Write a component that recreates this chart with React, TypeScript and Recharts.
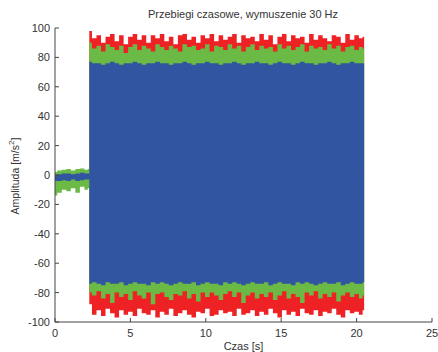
import { ComposedChart, Area, XAxis, YAxis, Label } from 'recharts';

// time stamps [s]: quiet start, then the 30 Hz excitation block
const czas = [
    0, 0.3, 0.6, 0.9, 1.2, 1.5, 1.8, 2.1, 2.25,
    2.3, 2.6, 2.9, 3.2, 3.5, 3.8, 4.1, 4.4, 4.7, 5.0,
    5.3, 5.6, 5.9, 6.2, 6.5, 6.8, 7.1, 7.4, 7.7, 8.0,
    8.3, 8.6, 8.9, 9.2, 9.5, 9.8, 10.1, 10.4, 10.7, 11.0,
    11.3, 11.6, 11.9, 12.2, 12.5, 12.8, 13.1, 13.4, 13.7, 14.0,
    14.3, 14.6, 14.9, 15.2, 15.5, 15.8, 16.1, 16.4, 16.7, 17.0,
    17.3, 17.6, 17.9, 18.2, 18.5, 18.8, 19.1, 19.4, 19.7, 20.0,
    20.3, 20.5,
];

// envelopes (min / max) of each signal
const redHigh = [
    1, 2, 1.5, 1, 2, 1.5, 2, 1.5, 2,
    98, 93, 95, 90, 94, 96, 91, 95, 89, 94,
    96, 92, 95, 90, 95, 93, 96, 91, 94, 89,
    95, 96, 92, 94, 90, 95, 93, 96, 91, 95,
    92, 94, 96, 90, 95, 93, 94, 91, 96, 92,
    95, 89, 94, 96, 91, 95, 93, 94, 90, 96,
    92, 95, 93, 91, 95, 94, 90, 96, 92, 95,
    93, 94,
];
const redLow = [
    -3, -3, -2, -3, -2, -3, -2, -3, -2,
    -88, -95, -92, -96, -91, -94, -97, -92, -95, -93,
    -96, -91, -94, -95, -92, -97, -93, -95, -91, -96,
    -94, -92, -95, -97, -93, -94, -91, -96, -95, -92,
    -94, -93, -96, -91, -95, -94, -92, -96, -93, -95,
    -91, -94, -97, -92, -95, -93, -96, -91, -94, -95,
    -92, -96, -93, -94, -91, -95, -97, -92, -94, -93,
    -95, -92,
];
const greenHigh = [
    2, 3, 3.5, 4, 3, 4, 4.5, 3.5, 4,
    90, 86, 88, 84, 89, 87, 85, 88, 83, 87,
    89, 85, 88, 86, 84, 89, 87, 85, 88, 86,
    84, 89, 87, 88, 85, 86, 89, 84, 88, 87,
    85, 89, 86, 88, 84, 87, 89, 85, 88, 86,
    87, 84, 89, 86, 88, 85, 87, 89, 84, 88,
    86, 87, 85, 89, 86, 88, 84, 87, 88, 85,
    87, 86,
];
const greenLow = [
    -14, -12, -10, -11, -9, -12, -8, -10, -9,
    -80, -82, -79, -84, -81, -87, -80, -83, -81, -85,
    -79, -82, -84, -80, -88, -81, -80, -83, -85, -81,
    -82, -79, -84, -81, -86, -80, -83, -80, -82, -85,
    -81, -79, -83, -80, -87, -82, -80, -84, -81, -83,
    -80, -85, -82, -79, -84, -81, -83, -87, -80, -82,
    -79, -84, -81, -83, -80, -86, -82, -80, -83, -81,
    -84, -82,
];
const blueHigh = [
    0, 0.5, 1, 1, 0.5, 1, 1.5, 1, 1,
    77, 76, 76, 75, 76, 77, 76, 75, 76, 76,
    77, 76, 75, 76, 76, 77, 76, 76, 75, 76,
    76, 77, 76, 75, 76, 76, 77, 76, 76, 75,
    76, 76, 77, 76, 75, 76, 76, 77, 76, 76,
    75, 76, 77, 76, 76, 75, 76, 77, 76, 76,
    75, 76, 76, 77, 76, 75, 76, 76, 77, 76,
    76, 76,
];
const blueLow = [
    -4, -4, -3.5, -4, -3, -4, -3.5, -3, -3,
    -74, -73, -74, -75, -73, -74, -74, -73, -75, -74,
    -73, -74, -74, -75, -73, -74, -73, -74, -75, -74,
    -73, -74, -74, -73, -75, -74, -73, -74, -74, -75,
    -73, -74, -73, -74, -75, -74, -73, -74, -74, -73,
    -75, -74, -73, -74, -74, -75, -73, -74, -73, -74,
    -75, -74, -73, -74, -74, -73, -75, -74, -73, -74,
    -74, -73,
];

const xTicks = [0, 5, 10, 15, 20, 25];
const yTicks = [-100, -80, -60, -40, -20, 0, 20, 40, 60, 80, 100];

const data = czas.map((t, i) => ({
    t,
    red: [redLow[i], redHigh[i]],
    green: [greenLow[i], greenHigh[i]],
    blue: [blueLow[i], blueHigh[i]],
}));

const FONT = '"Liberation Sans", Arial, sans-serif';
const TEXT = '#333333';
const AXIS = '#444444';

const YTitle = () => (
    <text
        x={15}
        y={176}
        transform="rotate(-90 15 176)"
        textAnchor="middle"
        dominantBaseline="central"
        fontFamily={FONT}
        fontSize={10.5}
        fill={TEXT}
    >
        Amplituda [m/s
        <tspan dy={-4} fontSize={8}>2</tspan>
        <tspan dy={4}>]</tspan>
    </text>
);

const App = () => (
    <div style={{ position: 'absolute', left: 0, top: 0, background: '#fff' }}>
        <ComposedChart
            width={438}
            height={352}
            data={data}
            margin={{ top: 28, right: 6, bottom: 0, left: 0 }}
        >
            <text
                x={243}
                y={18}
                textAnchor="middle"
                fontFamily={FONT}
                fontSize={11}
                fill={TEXT}
            >
                Przebiegi czasowe, wymuszenie 30 Hz
            </text>
            <XAxis
                dataKey="t"
                type="number"
                domain={[0, 25]}
                ticks={xTicks}
                height={30}
                tickSize={-4}
                tickMargin={11}
                stroke={AXIS}
                tick={{ fontSize: 11, fill: TEXT, fontFamily: FONT }}
            >
                <Label
                    value="Czas [s]"
                    position="insideBottom"
                    offset={2}
                    style={{ fontSize: 11, fill: TEXT, fontFamily: FONT }}
                />
            </XAxis>
            <YAxis
                type="number"
                domain={[-100, 100]}
                ticks={yTicks}
                width={55}
                tickSize={-4}
                tickMargin={9}
                stroke={AXIS}
                tick={{ fontSize: 11, fill: TEXT, fontFamily: FONT }}
                allowDataOverflow
            >
                <Label content={<YTitle />} />
            </YAxis>
            <Area
                dataKey="red"
                type="step"
                stroke="none"
                fill="#ee2125"
                fillOpacity={1}
                isAnimationActive={false}
            />
            <Area
                dataKey="green"
                type="step"
                stroke="none"
                fill="#6bba45"
                fillOpacity={1}
                isAnimationActive={false}
            />
            <Area
                dataKey="blue"
                type="step"
                stroke="none"
                fill="#3155a1"
                fillOpacity={1}
                isAnimationActive={false}
            />
        </ComposedChart>
    </div>
);

export default App;
